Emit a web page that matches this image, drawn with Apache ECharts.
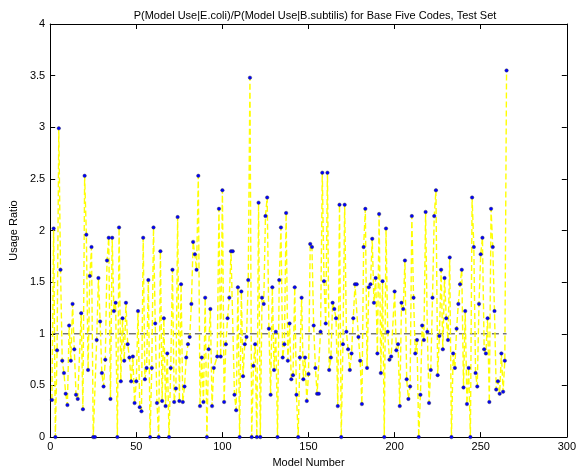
<!DOCTYPE html>
<html>
<head>
<meta charset="utf-8">
<script src="https://cdn.jsdelivr.net/npm/echarts@6/dist/echarts.min.js"></script>
<style>
  html, body { margin: 0; padding: 0; background: #fff; }
  #main { width: 579px; height: 473px; }
</style>
</head>
<body>
<div id="main"></div>
<script>
// usage ratio per model number (1..265), null where no point was read
var usageRatio = [
  0.36, 2.02, 0, 0.84, 2.99, 1.62, 0.74, 0.62, 0.42, 0.31,
  1.08, 0.74, 1.29, 0.85, 0.41, 0.37, null, 1.2, 0.27, 2.53,
  1.96, 0.65, 1.56, 1.84, 0, 0, 0.94, 1.54, 1.12, 0.62,
  0.49, 0.75, 1.71, 1.93, 0.37, 1.93, 1.22, 1.3, 0, 2.03,
  0.54, 1.15, 0.74, 1.3, 0.9, 0.77, 0.54, 0.78, 0.33, 0.54,
  1.22, 0.29, 0.25, 1.93, 0.56, 0.67, 1.52, 0, 0.67, 2.03,
  1.1, 0.33, 0, 1.8, 0.35, 1.15, 0.3, 0.81, 0, 0.67,
  1.62, 0.34, 0.47, 2.13, 0.35, 1.48, 0.34, 0.49, 0.77, 0.9,
  0.97, 1.29, 1.89, 1.77, 1.62, 2.53, 0.3, 0.77, 0.34, 1.35,
  0, 0.85, 1.24, 0.3, 0.67, null, 0.78, 2.21, 0.78, 2.39,
  0.34, 0.9, 1.15, 1.35, 1.8, 1.8, 0.41, 0.26, 1.45, 0,
  1.41, 0.59, 0.9, 0.97, 1.52, 3.48, 0, 0.69, 0.9, 0,
  2.27, 0, 1.35, 1.29, 2.14, 2.32, 1.05, 0.41, 1.45, 0.65,
  1.02, 0, 1.52, 2.03, 0.77, 0.9, 2.17, 0.74, 1.1, 0.56,
  0.6, 1.45, 0.41, 0, 0.77, 1.35, 0.56, 0.77, 0.35, 0.61,
  1.87, 1.84, 1.08, 0.67, 0.42, 0.42, 1.02, 2.56, 1.51, 1.1,
  2.56, 0.65, 0.77, 1.3, 1.24, 1.15, 0.3, 2.25, 0, 0.9,
  2.25, 1.02, 0.85, 0.65, 0.81, 1.15, 1.48, 1.48, 0.97, 0.74,
  0.32, 1.84, 2.21, 0.67, 1.45, 1.48, 1.92, 1.3, 1.54, 0.81,
  2.16, 0.62, 1.51, 0, 2.02, 1.02, 0.75, 0.78, null, 1.41,
  0.84, 0.9, 0.3, 1.3, 1.24, 1.71, 0.56, 0.37, 0.49, 2.14,
  1.35, 0.81, 0.94, 0, 0.41, 1.08, 0.94, 2.18, 1.02, 0.33,
  0.65, 1.35, 2.14, 2.39, 0.6, 0.98, 1.62, 0.85, 1.54, 1.15,
  0.94, 1.74, 0, 0.81, 0.67, 1.05, 1.29, 1.48, 1.62, 0.48,
  1.22, 0.32, 0.67, 0, 2.32, 1.84, 0.62, 0.49, 1.29, 1.77,
  1.93, 0.85, 0.81, 1.15, 0.34, 2.21, 1.84, 1.22, 0.46, 0.54,
  0.42, 0.81, 0.44, 0.74, 3.55
];
var refLine = [[1, 1], [265, 1]];
var xTicks = [0, 50, 100, 150, 200, 250, 300];
var yTicks = [0, 0.5, 1, 1.5, 2, 2.5, 3, 3.5, 4];

var points = usageRatio.map(function (v, i) { return [i + 1, v]; });

var font = 'Liberation Sans, Arial, sans-serif';
var chart = echarts.init(document.getElementById('main'));

var tickIn = { show: true, inside: true, length: 5, lineStyle: { color: '#000' } };
var axisLine = { show: true, onZero: false, lineStyle: { color: '#000', width: 1 } };

chart.setOption({
  animation: false,
  title: {
    text: 'P(Model Use|E.coli)/P(Model Use|B.subtilis) for Base Five Codes, Test Set',
    left: 310, top: 5, textAlign: 'center',
    textStyle: { fontFamily: font, fontSize: 11, fontWeight: 'normal', color: '#000' }
  },
  grid: { left: 48, right: 7, top: 24, bottom: 32 },
  xAxis: [{
    type: 'value', min: 0, max: 300, interval: 50,
    name: 'Model Number', nameLocation: 'middle', nameGap: 17,
    nameTextStyle: { fontFamily: font, fontSize: 11, color: '#000' },
    axisLine: axisLine, axisTick: tickIn, splitLine: { show: false },
    axisLabel: { fontFamily: font, fontSize: 11, color: '#000', margin: 4,
      formatter: function (v) { return xTicks.indexOf(v) >= 0 ? String(v) : ''; } }
  }, {
    type: 'value', position: 'top', min: 0, max: 300, interval: 50,
    axisLine: axisLine, axisTick: tickIn, axisLabel: { show: false }, splitLine: { show: false }
  }],
  yAxis: [{
    type: 'value', min: 0, max: 4, interval: 0.5,
    name: 'Usage Ratio', nameLocation: 'middle', nameGap: 26,
    nameTextStyle: { fontFamily: font, fontSize: 11, color: '#000' },
    axisLine: axisLine, axisTick: tickIn, splitLine: { show: false },
    axisLabel: { fontFamily: font, fontSize: 11, color: '#000', margin: 5,
      formatter: function (v) { return yTicks.indexOf(v) >= 0 ? String(v) : ''; } }
  }, {
    type: 'value', position: 'right', min: 0, max: 4, interval: 0.5,
    axisLine: axisLine, axisTick: tickIn, axisLabel: { show: false }, splitLine: { show: false }
  }],
  series: [{
    type: 'line',
    data: refLine,
    symbol: 'none',
    lineStyle: { color: '#333', width: 1, type: [7, 4] },
    z: 1
  }, {
    type: 'line',
    data: points,
    connectNulls: true,
    symbol: 'circle',
    symbolSize: 3.5,
    showSymbol: true,
    itemStyle: { color: '#0000ff', borderColor: '#333', borderWidth: 0.4 },
    lineStyle: { color: '#ffff00', width: 1.4, type: [6, 3] },
    z: 2
  }]
});
</script>
</body>
</html>
